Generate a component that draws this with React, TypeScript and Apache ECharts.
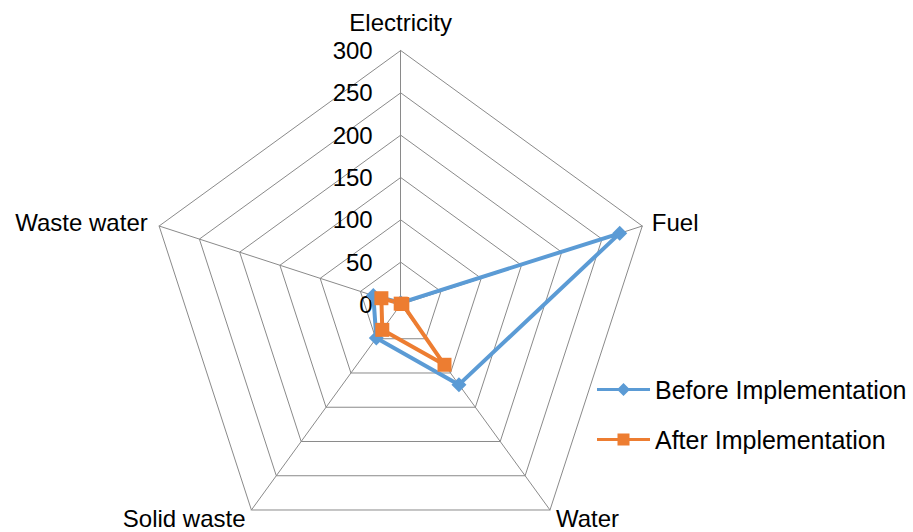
import React, { useEffect, useRef } from 'react';
import * as echarts from 'echarts';

// ---- data (Excel order, clockwise from top) ----
const categories = ['Electricity', 'Fuel', 'Water', 'Solid waste', 'Waste water'];
const beforeValues = [2, 272, 117, 49, 34];
const afterValues = [1, 2, 88, 37, 24];
const seriesNames = ['Before Implementation', 'After Implementation'];
const axisMin = 0;
const axisMax = 300;
const splitCount = 6;

// ---- styling ----
const FONT = '"Liberation Sans", Arial, sans-serif';
const BLUE = '#5B9BD5';
const ORANGE = '#ED7D31';
const GRID = '#8A8A8A';

// ECharts radar runs counter-clockwise; Excel runs clockwise.
const clockwiseOrder = [0, 4, 3, 2, 1];

const nameGapFor: Record<string, number> = {
  Electricity: 16,
  Fuel: 10,
  Water: 10,
  'Solid waste': 10,
  'Waste water': 12,
};
const namePadFor: Record<string, number[]> = {
  Water: [0, 0, 10, 0],
  'Solid waste': [0, 0, 10, 0],
};

export default function App() {
  const ref = useRef<HTMLDivElement>(null);

  useEffect(() => {
    if (!ref.current) return;
    const chart = echarts.init(ref.current, undefined, { renderer: 'svg' });

    const indicator = clockwiseOrder.map((i, k) => {
      const name = categories[i];
      const ind: any = {
        name,
        min: axisMin,
        max: axisMax,
        nameGap: nameGapFor[name],
      };
      if (namePadFor[name]) {
        ind.nameTextStyle = { padding: namePadFor[name] };
      }
      if (k === 0) {
        ind.axisLabel = {
          show: true,
          fontSize: 24,
          fontFamily: FONT,
          color: '#000',
          margin: 28,
        };
      }
      return ind;
    });

    const reorder = (arr: number[]) => clockwiseOrder.map((i) => arr[i]);

    const diamondIcon = 'path://M0,5H53V8H0Z M20,6.5L26.5,0L33,6.5L26.5,13Z';
    const squareIcon = 'path://M0,5H53V8H0Z M20.5,0.5H32.5V12.5H20.5Z';

    chart.setOption({
      animation: false,
      backgroundColor: '#fff',
      legend: {
        orient: 'vertical',
        left: 597,
        top: 377,
        padding: 0,
        itemWidth: 53,
        itemHeight: 13,
        itemGap: 25,
        textStyle: { fontSize: 25, fontFamily: FONT, color: '#000' },
        data: [
          { name: seriesNames[0], icon: diamondIcon, itemStyle: { color: BLUE, borderWidth: 0 } },
          { name: seriesNames[1], icon: squareIcon, itemStyle: { color: ORANGE, borderWidth: 0 } },
        ],
      },
      radar: {
        center: [400.7, 304.5],
        radius: 254,
        startAngle: 90,
        shape: 'polygon',
        splitNumber: splitCount,
        indicator,
        axisName: { fontSize: 24, fontFamily: FONT, color: '#000' },
        nameGap: 10,
        axisLine: { show: true, lineStyle: { color: GRID, width: 1 } },
        splitLine: { show: true, lineStyle: { color: GRID, width: 1 } },
        splitArea: { show: false },
        axisTick: { show: false },
        axisLabel: { show: false },
      },
      series: [
        {
          type: 'radar',
          data: [
            {
              name: seriesNames[0],
              value: reorder(beforeValues),
              symbol: 'diamond',
              symbolSize: 15,
              lineStyle: { color: BLUE, width: 4 },
              itemStyle: { color: BLUE, borderWidth: 0 },
            },
            {
              name: seriesNames[1],
              value: reorder(afterValues),
              symbol: 'rect',
              symbolSize: 14,
              lineStyle: { color: ORANGE, width: 4 },
              itemStyle: { color: ORANGE, borderWidth: 0 },
            },
          ],
        },
      ],
    });

    return () => chart.dispose();
  }, []);

  return (
    <div
      ref={ref}
      style={{ position: 'absolute', left: 0, top: 0, width: 913, height: 532, background: '#fff' }}
    />
  );
}
